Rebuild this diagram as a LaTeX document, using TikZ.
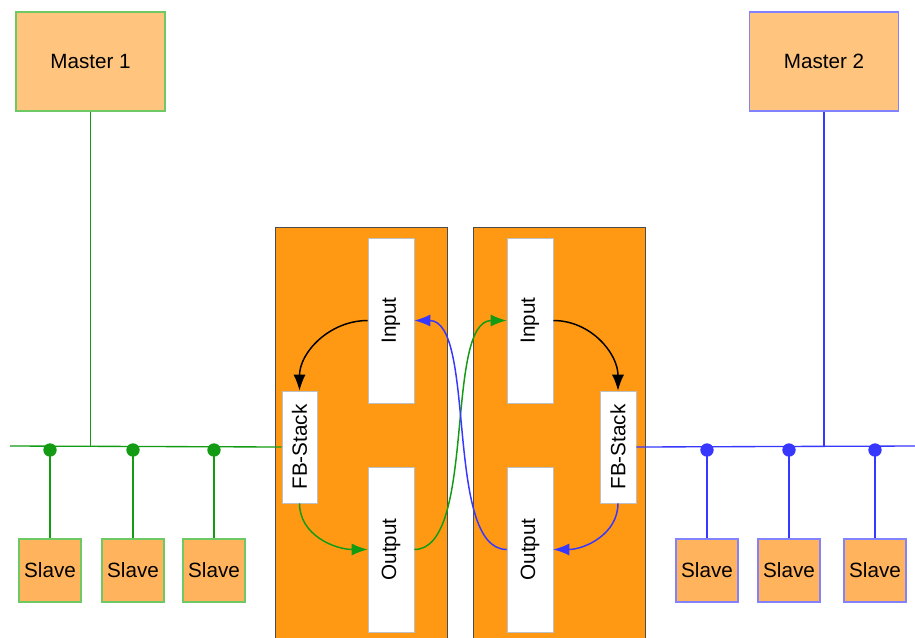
\documentclass[tikz,border=0pt]{standalone}
\usepackage{fontspec}
\setmainfont{Liberation Sans}
\usetikzlibrary{arrows.meta, positioning}

\definecolor{mastfill}{RGB}{255,196,126}
\definecolor{slavefill}{RGB}{255,179,92}
\definecolor{panelfill}{RGB}{255,153,20}
\definecolor{busgreen}{RGB}{20,155,20}
\definecolor{busblue}{RGB}{55,55,255}
\definecolor{edgegreen}{RGB}{110,200,100}
\definecolor{edgeblue}{RGB}{130,130,255}

\begin{document}
\begin{tikzpicture}[
    x=0.75pt, y=-0.75pt,
    lbl/.style={font=\fontsize{15.5}{18}\selectfont},
    master/.style={rectangle, draw, fill=mastfill, line width=0.8pt, minimum width=111.75pt, minimum height=74.25pt, lbl},
    slave/.style={rectangle, draw, fill=slavefill, line width=0.8pt, minimum width=46.5pt, minimum height=47.25pt, inner sep=1pt, lbl},
    panelbox/.style={rectangle, draw=black!70, fill=panelfill, minimum width=129pt, minimum height=313.5pt},
    port/.style={rectangle, draw=black!25, fill=white, minimum width=34.5pt, minimum height=123.75pt, inner sep=1pt, lbl},
    stack/.style={port, minimum width=26.25pt, minimum height=84pt},
    joint/.style={circle, inner sep=0pt, minimum size=10pt},
    bus/.style={line width=1pt},
    link/.style={-{Latex[length=12pt,width=9pt]}, line width=1.1pt}
]
    \useasboundingbox (0,0) rectangle (915,637);
    \clip (0,0) rectangle (915,637);
    \fill[white] (0,0) rectangle (915,637);

    % masters
    \node[master, draw=edgegreen] (m1) at (90.5,61.5) {Master 1};
    \node[master, draw=edgeblue] (m2) at (824,61.5) {Master 2};

    % the two devices
    \node[panelbox] (panL) at (361,436) {};
    \node[panelbox] (panR) at (559.5,436) {};

    \node[port] (inL) at (391,320.5) {\rotatebox{90}{Input}};
    \node[port] (outL) at (391,549.5) {\rotatebox{90}{Output}};
    \node[stack] (fbL) at (299.5,447) {\rotatebox{90}{FB-Stack}};
    \node[port] (inR) at (530,320.5) {\rotatebox{90}{Input}};
    \node[port] (outR) at (530,549.5) {\rotatebox{90}{Output}};
    \node[stack, minimum width=27pt] (fbR) at (618,447) {\rotatebox{90}{FB-Stack}};

    % slaves
    \node[slave, draw=edgegreen] (s1) at (50,570.5) {Slave};
    \node[slave, draw=edgegreen] (s2) at (133,570.5) {Slave};
    \node[slave, draw=edgegreen] (s3) at (214,570.5) {Slave};
    \node[slave, draw=edgeblue] (s4) at (707,570.5) {Slave};
    \node[slave, draw=edgeblue] (s5) at (789,570.5) {Slave};
    \node[slave, draw=edgeblue] (s6) at (875,570.5) {Slave};

    \node[joint, fill=busgreen] (d1) at (50,450) {};
    \node[joint, fill=busgreen] (d2) at (133,450) {};
    \node[joint, fill=busgreen] (d3) at (214,450) {};
    \node[joint, fill=busblue] (d4) at (707,450) {};
    \node[joint, fill=busblue] (d5) at (789,450) {};
    \node[joint, fill=busblue] (d6) at (875,450) {};

    \coordinate (busL) at (10,446);
    \coordinate (busR) at (915,446);

    % bus 1
    \draw[bus, busgreen] (busL) -- (fbL.west);
    \draw[bus, busgreen] (m1.south) -- (m1.south |- busL);
    \foreach \i in {1,2,3}
        \draw[bus, busgreen] (d\i.center) -- (s\i.north);

    % bus 2
    \draw[bus, busblue] (fbR.east) -- (busR);
    \draw[bus, busblue] (m2.south) -- (m2.south |- busR);
    \foreach \i in {4,5,6}
        \draw[bus, busblue] (d\i.center) -- (s\i.north);

    % data flow
    \draw[link, black] (inL.west) to[out=180, in=90] (fbL.north);
    \draw[link, busgreen] (fbL.south) to[out=-90, in=180] (outL.west);
    \draw[link, busgreen] (outL.east) to[out=0, in=180, looseness=0.65] (inR.west);
    \draw[link, busblue] (outR.west) to[out=180, in=0, looseness=0.65] (inL.east);
    \draw[link, black] (inR.east) to[out=0, in=90] (fbR.north);
    \draw[link, busblue] (fbR.south) to[out=-90, in=0] (outR.east);
\end{tikzpicture}
\end{document}
